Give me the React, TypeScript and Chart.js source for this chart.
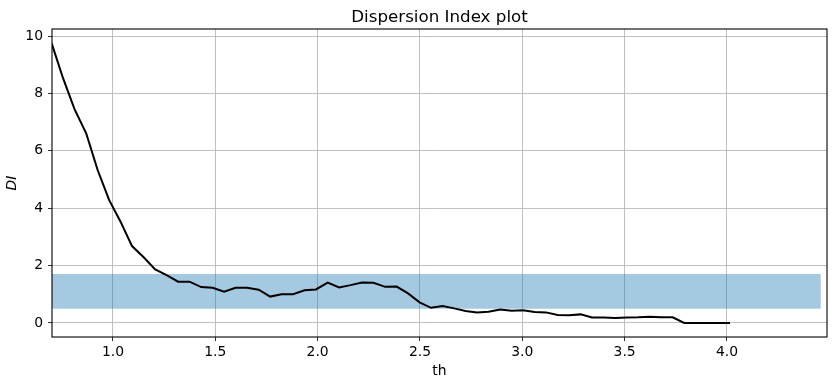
import React, { useEffect, useRef } from "react";
import { Chart, registerables } from "chart.js";

Chart.register(...registerables);

const thValues = [
  0.700, 0.756, 0.812, 0.869, 0.925, 0.981, 1.037, 1.093, 1.150, 1.206,
  1.262, 1.318, 1.374, 1.431, 1.487, 1.543, 1.599, 1.655, 1.712, 1.768,
  1.824, 1.880, 1.936, 1.992, 2.049, 2.105, 2.161, 2.217, 2.273, 2.330,
  2.386, 2.442, 2.498, 2.554, 2.611, 2.667, 2.723, 2.779, 2.835, 2.892,
  2.948, 3.004, 3.060, 3.116, 3.173, 3.229, 3.285, 3.341, 3.397, 3.454,
  3.510, 3.566, 3.622, 3.678, 3.735, 3.791, 3.847, 3.903, 3.959, 4.015,
];

const diValues = [
  9.75, 8.53, 7.45, 6.61, 5.33, 4.29, 3.53, 2.68, 2.29, 1.87,
  1.67, 1.44, 1.44, 1.25, 1.23, 1.09, 1.23, 1.23, 1.16, 0.92,
  1.0, 1.0, 1.14, 1.17, 1.41, 1.24, 1.32, 1.41, 1.40, 1.26,
  1.27, 1.03, 0.72, 0.53, 0.59, 0.51, 0.42, 0.37, 0.39, 0.47,
  0.43, 0.44, 0.38, 0.37, 0.28, 0.27, 0.30, 0.19, 0.19, 0.17,
  0.19, 0.20, 0.22, 0.20, 0.20, 0.0, 0.0, 0.0, 0.0, 0.0,
];

const bandX = [0.70, 4.459];
const bandUpper = [1.71, 1.71];
const bandLower = [0.50, 0.50];

const xTicks = [1.0, 1.5, 2.0, 2.5, 3.0, 3.5, 4.0];
const yTicks = [0, 2, 4, 6, 8, 10];

const xRange = [0.702, 4.489];
const yRange = [-0.488, 10.244];

const titleText = "Dispersion Index plot";
const xTitle = "th";
const yTitle = "DI";

const FONT = "'DejaVu Sans', sans-serif";

const framePlugin = {
  id: "frameAndTitle",
  afterDraw(chart: any) {
    const { ctx, chartArea } = chart;
    ctx.save();
    ctx.strokeStyle = "#000";
    ctx.lineWidth = 1.1;
    ctx.strokeRect(
      chartArea.left,
      chartArea.top,
      chartArea.right - chartArea.left,
      chartArea.bottom - chartArea.top
    );
    ctx.fillStyle = "#000";
    ctx.font = `16.7px ${FONT}`;
    ctx.textAlign = "center";
    ctx.textBaseline = "alphabetic";
    ctx.fillText(titleText, (chartArea.left + chartArea.right) / 2, chartArea.top - 7);
    ctx.restore();
  },
};

export default function App() {
  const canvasRef = useRef<HTMLCanvasElement | null>(null);

  useEffect(() => {
    if (!canvasRef.current) return;
    const lineData = thValues.map((x, i) => ({ x, y: diValues[i] }));
    const upper = bandX.map((x, i) => ({ x, y: bandUpper[i] }));
    const lower = bandX.map((x, i) => ({ x, y: bandLower[i] }));

    const chart = new Chart(canvasRef.current, {
      type: "line",
      data: {
        datasets: [
          {
            label: "DI",
            data: lineData,
            borderColor: "#000",
            borderWidth: 2,
            pointRadius: 0,
            fill: false,
            tension: 0,
            order: 0,
          },
          {
            label: "band-upper",
            data: upper,
            borderWidth: 0,
            borderColor: "rgba(0,0,0,0)",
            backgroundColor: "rgba(31,119,180,0.4)",
            pointRadius: 0,
            fill: "+1",
            order: 2,
          },
          {
            label: "band-lower",
            data: lower,
            borderWidth: 0,
            borderColor: "rgba(0,0,0,0)",
            pointRadius: 0,
            fill: false,
            order: 3,
          },
        ],
      },
      options: {
        animation: false,
        responsive: false,
        maintainAspectRatio: false,
        layout: { padding: { left: 0, right: 12, top: 29, bottom: 0 } },
        plugins: {
          legend: { display: false },
          tooltip: { enabled: false },
          title: { display: false },
        },
        scales: {
          x: {
            type: "linear",
            min: xRange[0],
            max: xRange[1],
            afterBuildTicks: (scale: any) => {
              scale.ticks = xTicks.map((v) => ({ value: v }));
            },
            afterFit: (scale: any) => {
              scale.height = 44;
            },
            ticks: {
              color: "#000",
              font: { family: FONT, size: 13.9 },
              padding: 3,
              maxRotation: 0,
              autoSkip: false,
              callback: (v: any) => Number(v).toFixed(1),
            },
            grid: {
              color: "#b0b0b0",
              lineWidth: 0.8,
              tickColor: "#000",
              tickLength: 4,
              drawTicks: true,
            },
            border: { display: false },
            title: {
              display: true,
              text: xTitle,
              color: "#000",
              font: { family: FONT, size: 13.9 },
              padding: { top: 0, bottom: 1 },
            },
          },
          y: {
            type: "linear",
            min: yRange[0],
            max: yRange[1],
            afterBuildTicks: (scale: any) => {
              scale.ticks = yTicks.map((v) => ({ value: v }));
            },
            afterFit: (scale: any) => {
              scale.width = 52;
            },
            ticks: {
              color: "#000",
              font: { family: FONT, size: 13.9 },
              padding: 5,
              autoSkip: false,
              callback: (v: any) => String(v),
            },
            grid: {
              color: "#b0b0b0",
              lineWidth: 0.8,
              tickColor: "#000",
              tickLength: 4,
              drawTicks: true,
            },
            border: { display: false },
            title: {
              display: true,
              text: yTitle,
              color: "#000",
              font: { family: FONT, size: 13.9, style: "italic" },
              padding: { top: 4, bottom: 0 },
            },
          },
        },
      },
      plugins: [framePlugin],
    });
    return () => chart.destroy();
  }, []);

  return (
    <div style={{ position: "absolute", left: 0, top: 0, width: 839, height: 381, background: "#fff" }}>
      <canvas ref={canvasRef} width={839} height={381} style={{ width: 839, height: 381, display: "block" }} />
    </div>
  );
}
